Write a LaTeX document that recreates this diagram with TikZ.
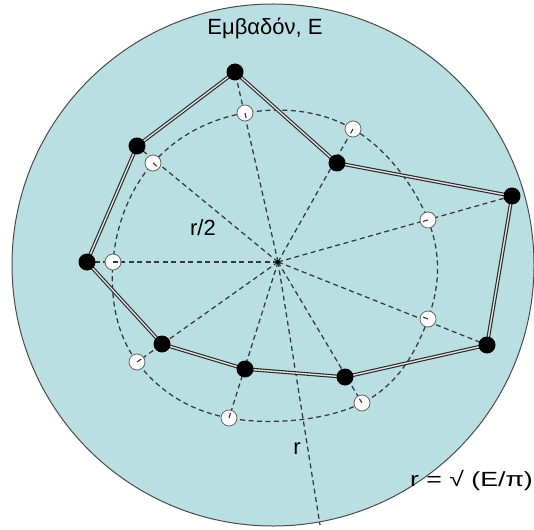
\documentclass[tikz,border=0pt]{standalone}
\usepackage{fontspec}
\setmainfont{Liberation Sans}
\usetikzlibrary{calc}
\definecolor{disk}{RGB}{185,223,226}
\begin{document}
\begin{tikzpicture}[x=1pt,y=-1pt,
  ray/.style={draw=black!78, dash pattern=on 5pt off 3.5pt, line width=1.25pt},
  poly/.style={draw=black!85, double=white!88!black, double distance=1.4pt, line width=1.1pt, line join=round},
  bdot/.style={circle, fill=black, inner sep=0pt, minimum size=17pt},
  wdot/.style={circle, fill=white, draw=black!60, line width=0.8pt, inner sep=0pt, minimum size=16pt},
  tick/.style={draw=black!80, line width=1.1pt},
  lbl/.style={font=\fontsize{22}{24}\selectfont, inner sep=0pt}]
\useasboundingbox (0,0) rectangle (534,529);
% disk
\fill[disk] (273,265) circle (261pt);
\draw[black!70, line width=1pt] (273,265) circle (261pt);
% points
\coordinate (o) at (278,262);
\coordinate (b1) at (235,72);
\coordinate (b2) at (337,163);
\coordinate (b3) at (512,196);
\coordinate (b4) at (487,345);
\coordinate (b5) at (345,377);
\coordinate (b6) at (245,369);
\coordinate (b7) at (162,344);
\coordinate (b8) at (87,262);
\coordinate (b9) at (137,146);
\coordinate (w1) at (245,113);
\coordinate (w2) at (353,129);
\coordinate (w3) at (428,220);
\coordinate (w4) at (428,319);
\coordinate (w5) at (362,403);
\coordinate (w6) at (229,418);
\coordinate (w7) at (137,362);
\coordinate (w8) at (113,262);
\coordinate (w9) at (153,163);
\coordinate (re) at (320,525);
% dashed half-radius curve
\draw[ray] plot[smooth cycle, tension=0.65] coordinates {(w1) (w2) (w3) (w4) (w5) (w6) (w7) (w8) (w9)};
% rays
\draw[ray] (o) -- (b1);
\draw[ray] (o) -- (w2);
\draw[ray] (o) -- (b3);
\draw[ray] (o) -- (b4);
\draw[ray] (o) -- (w5);
\draw[ray] (o) -- (w6);
\draw[ray] (o) -- (w7);
\draw[ray] (o) -- (b8);
\draw[ray] (o) -- (b9);
\draw[ray] (o) -- (re);
% polygon
\draw[poly] (b1) -- (b2) -- (b3) -- (b4) -- (b5) -- (b6) -- (b7) -- (b8) -- (b9) -- cycle;
% white dots
\foreach \i in {1,...,9} {
  \node[wdot] (W\i) at (w\i) {};
  \draw[tick] ($(w\i)!5pt!(o)$) -- (w\i);
}
% black dots
\foreach \i in {1,...,9} {
  \node[bdot] (B\i) at (b\i) {};
}
\node[circle, fill=black, inner sep=0pt, minimum size=4pt] (O) at (o) {};
% labels
\node[lbl] (title) at (265,28) {Εμβαδόν, Ε};
\node[lbl] (rhalf) at (203,228) {r/2};
\node[lbl] (rlab) at (297,449) {r};
\node[font=\fontsize{20.5}{22}\selectfont, inner sep=0pt, anchor=east] (formula) at (533,481) {\scalebox{1.3}[1]{r = √ (E/π)}};
\end{tikzpicture}
\end{document}
